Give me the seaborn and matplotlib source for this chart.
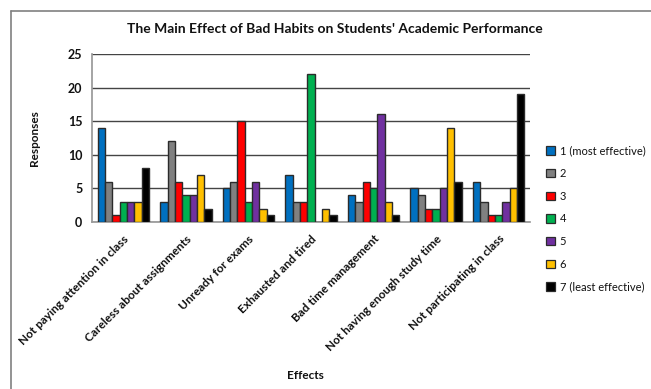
import numpy as np
import pandas as pd
import matplotlib
matplotlib.use("Agg")
import matplotlib.pyplot as plt
from matplotlib.lines import Line2D
from matplotlib.patches import Patch
import seaborn as sns

# Survey responses per bad habit, rated 1 (most effective) .. 7 (least effective)
effects = [
    "Not paying attention in class",
    "Careless about assignments",
    "Unready for exams",
    "Exhausted and tired",
    "Bad time management",
    "Not having enough study time",
    "Not participating in class",
]
ratings = ["1 (most effective)", "2", "3", "4", "5", "6", "7 (least effective)"]
r1 = [14, 3, 5, 7, 4, 5, 6]
r2 = [6, 12, 6, 3, 3, 4, 3]
r3 = [1, 6, 15, 3, 6, 2, 1]
r4 = [3, 4, 3, 22, 5, 2, 1]
r5 = [3, 4, 6, 0, 16, 5, 3]
r6 = [3, 7, 2, 2, 3, 14, 5]
r7 = [8, 2, 1, 1, 1, 6, 19]
yticks = [0, 5, 10, 15, 20, 25]

palette = ["#0070C0", "#808080", "#FF0000", "#00B050", "#7030A0", "#FFC000", "#000000"]

series = [r1, r2, r3, r4, r5, r6, r7]
rows = []
for rating, vals in zip(ratings, series):
    for eff, v in zip(effects, vals):
        rows.append({"Effects": eff, "Rating": rating, "Responses": v})
df = pd.DataFrame(rows)

sns.set_theme(style="white")
plt.rcParams["font.family"] = ["Lato", "DejaVu Sans"]

fig = plt.figure(figsize=(6.51, 3.89), dpi=100)
ax = fig.add_axes([92 / 651, 1 - 222 / 389, (530 - 92) / 651, (222 - 54) / 389])

sns.barplot(
    data=df, x="Effects", y="Responses", hue="Rating",
    order=effects, hue_order=ratings, palette=palette,
    width=0.82, gap=0, saturation=1, edgecolor="#2b2b2b", linewidth=1.0,
    legend=False, ax=ax, zorder=3,
)

ax.set_ylim(0, 25)
ax.set_yticks(yticks)
ax.set_xlim(-0.5, len(effects) - 0.5)
ax.yaxis.grid(True, color="#444444", linewidth=1.0, zorder=0)
ax.set_axisbelow(True)
for side in ["top", "right"]:
    ax.spines[side].set_visible(False)
ax.spines["left"].set_color("#999999")
ax.spines["bottom"].set_color("#999999")

# category separators on the x axis
ax.set_xticks(np.arange(len(effects)))
ax.set_xticks(np.arange(len(effects) + 1) - 0.5, minor=True)
ax.tick_params(axis="x", which="major", length=0, pad=8)
ax.tick_params(axis="x", which="minor", length=4, color="#999999", direction="out")
ax.tick_params(axis="y", length=4, color="#999999", direction="out", pad=3)
ax.set_xticklabels(effects, rotation=45, ha="right", rotation_mode="anchor",
                   fontsize=8.5, fontweight="bold", color="#111111")
for lab in ax.get_yticklabels():
    lab.set_fontsize(9)
    lab.set_fontweight("bold")
    lab.set_color("#111111")

ax.set_xlabel("Effects", fontsize=8.5, fontweight="bold", color="#111111")
ax.xaxis.set_label_coords((305 - 92) / (530 - 92), -(370 - 222) / (222 - 54))
ax.set_ylabel("Responses", fontsize=8.5, fontweight="bold", color="#111111")
ax.yaxis.set_label_coords(-(92 - 40) / (530 - 92), 0.5)

fig.text(335 / 651, 1 - 29 / 389, "The Main Effect of Bad Habits on Students' Academic Performance",
         ha="center", va="center", fontsize=10, fontweight="bold", color="#111111")

handles = [Patch(facecolor=c, edgecolor="#2b2b2b", linewidth=0.9) for c in palette]
leg = fig.legend(handles, ratings, loc="upper left",
                 bbox_to_anchor=(542 / 651, 1 - 141 / 389), frameon=False,
                 fontsize=8, handlelength=0.8, handleheight=0.8, handletextpad=0.4,
                 labelspacing=1.05, borderaxespad=0)
for t in leg.get_texts():
    t.set_color("#111111")

# outer chart frame
fig.add_artist(Line2D([11 / 651, 11 / 651], [0, 1 - 11 / 389], transform=fig.transFigure,
                      color="#808080", linewidth=1.2))
fig.add_artist(Line2D([11 / 651, 1], [1 - 11 / 389, 1 - 11 / 389], transform=fig.transFigure,
                      color="#808080", linewidth=1.2))

fig.savefig("out.png", dpi=100)
